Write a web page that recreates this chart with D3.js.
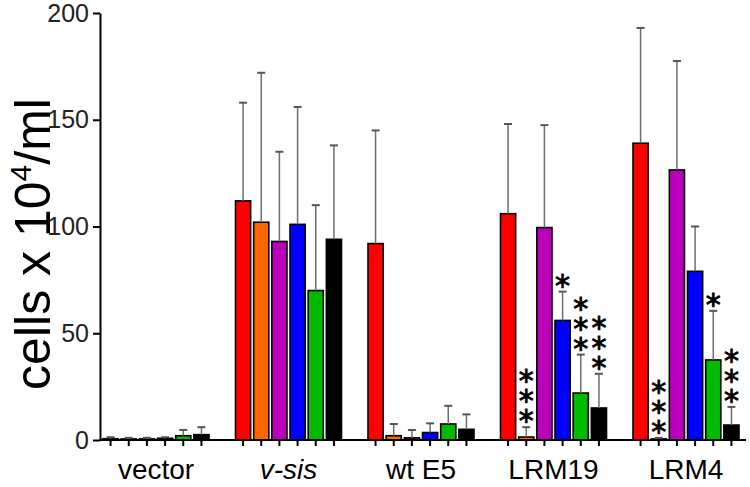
<!DOCTYPE html>
<html><head><meta charset="utf-8">
<script src="https://cdn.jsdelivr.net/npm/d3@7/dist/d3.min.js"></script>
<style>body{margin:0;background:#fff}svg{display:block}</style>
</head><body>
<svg id="chart" width="750" height="487"></svg>
<script>
// ---- data ----
const groups = ["vector", "v-sis", "wt E5", "LRM19", "LRM4"];
const italicGroups = ["v-sis"];
const series = ["s1", "s2", "s3", "s4", "s5", "s6"];
const colors = ["#ff0000", "#ff6600", "#bb00bb", "#0000ff", "#00bb00", "#000000"];
const meanVector = [0.6, 0.5, 0.5, 0.8, 2, 2.5];
const meanVsis   = [112, 102, 93, 101, 70, 94];
const meanWtE5   = [92, 2, 1, 3.5, 7.5, 5];
const meanLRM19  = [106, 1.4, 99.5, 56, 22, 15];
const meanLRM4   = [139, 0.5, 126.5, 79, 37.5, 7];
const upperVector = [1.3, 1.0, 1.0, 1.3, 4.7, 6.0];
const upperVsis   = [158, 172, 135, 156, 110, 138];
const upperWtE5   = [145, 7.5, 4.7, 7.8, 16, 12];
const upperLRM19  = [148, 6, 147.5, 69.5, 40, 31];
const upperLRM4   = [193, 1, 177.5, 100, 60.5, 15.5];
const starsVector = [0, 0, 0, 0, 0, 0];
const starsVsis   = [0, 0, 0, 0, 0, 0];
const starsWtE5   = [0, 0, 0, 0, 0, 0];
const starsLRM19  = [0, 3, 0, 1, 3, 3];
const starsLRM4   = [0, 3, 0, 0, 1, 3];
const yTicks = [0, 50, 100, 150, 200];

const means = [meanVector, meanVsis, meanWtE5, meanLRM19, meanLRM4];
const uppers = [upperVector, upperVsis, upperWtE5, upperLRM19, upperLRM4];
const stars = [starsVector, starsVsis, starsWtE5, starsLRM19, starsLRM4];

const rows = [];
groups.forEach((g, gi) => series.forEach((s, si) => rows.push({
  g, s, si, v: means[gi][si], up: uppers[gi][si], st: stars[gi][si]
})));

// ---- layout ----
const svg = d3.select("#chart");
const FONT = "Liberation Sans, Arial, sans-serif";
const axisX = 100, axisRight = 746, y0 = 440, yTop = 13;

const y = d3.scaleLinear().domain([0, 200]).range([y0, yTop]);
const x = d3.scaleBand().domain(groups).range([103, 739]).paddingInner(0.2).paddingOuter(0);
const xi = d3.scaleBand().domain(series).range([0, x.bandwidth()]).paddingInner(0.167).paddingOuter(0);
const cx = d => x(d.g) + xi(d.s) + xi.bandwidth() / 2;

// bars
svg.append("g").selectAll("rect").data(rows).join("rect")
  .attr("x", d => x(d.g) + xi(d.s))
  .attr("width", xi.bandwidth())
  .attr("y", d => y(d.v))
  .attr("height", d => y0 - y(d.v))
  .attr("fill", d => colors[d.si])
  .attr("stroke", "#000").attr("stroke-width", 1.6);

// error bars
const eb = svg.append("g");
eb.selectAll("line.v").data(rows).join("line").attr("class", "v")
  .attr("x1", cx).attr("x2", cx)
  .attr("y1", d => y(d.v)).attr("y2", d => y(d.up))
  .attr("stroke", "#6e6e6e").attr("stroke-width", 1.5);
eb.selectAll("line.c").data(rows).join("line").attr("class", "c")
  .attr("x1", d => cx(d) - 4).attr("x2", d => cx(d) + 4)
  .attr("y1", d => y(d.up)).attr("y2", d => y(d.up))
  .attr("stroke", "#555").attr("stroke-width", 2);

// significance stars: one vertical text per bar (stacked asterisks)
const STAR_FS = 30, STAR_PITCH = 20;
svg.append("g").selectAll("text").data(rows.filter(d => d.st > 0)).join("text")
  .attr("x", cx)
  .attr("y", d => y(d.up) - 13 - (d.st - 1) * STAR_PITCH - 11)
  .attr("text-anchor", "start")
  .style("writing-mode", "vertical-rl")
  .style("text-orientation", "upright")
  .style("letter-spacing", "-15px")
  .attr("font-family", "DejaVu Sans, sans-serif").attr("font-size", STAR_FS)
  .attr("fill", "#000").attr("stroke", "#000").attr("stroke-width", 0.9)
  .text(d => "*".repeat(d.st));

// x axis
const xa = svg.append("g");
xa.append("line").attr("x1", axisX).attr("x2", axisRight).attr("y1", y0).attr("y2", y0)
  .attr("stroke", "#000").attr("stroke-width", 2);
xa.selectAll("line.t").data(rows).join("line").attr("class", "t")
  .attr("x1", cx).attr("x2", cx)
  .attr("y1", y0).attr("y2", y0 + 6)
  .attr("stroke", "#000").attr("stroke-width", 2);
xa.selectAll("text").data(groups).join("text")
  .attr("x", g => x(g) + x.bandwidth() / 2)
  .attr("y", 479)
  .attr("text-anchor", "middle")
  .attr("font-family", FONT).attr("font-size", 28)
  .attr("font-style", g => italicGroups.includes(g) ? "italic" : "normal")
  .attr("fill", "#000")
  .text(g => g);

// y axis
const ya = svg.append("g").attr("transform", `translate(${axisX},0)`)
  .call(d3.axisLeft(y).tickValues(yTicks).tickSize(7).tickPadding(4).tickSizeOuter(0));
ya.select(".domain").attr("stroke", "#000").attr("stroke-width", 2);
ya.selectAll(".tick line").attr("stroke", "#000").attr("stroke-width", 2);
ya.selectAll(".tick text").attr("font-family", FONT).attr("font-size", 25).attr("fill", "#222");

// y label
const lab = svg.append("text")
  .attr("transform", "translate(50,244) rotate(-90)")
  .attr("text-anchor", "middle")
  .attr("font-family", FONT).attr("font-size", 50).attr("fill", "#000");
lab.append("tspan").text("cells x 10");
lab.append("tspan").attr("font-size", 30).attr("dy", -19).text("4");
lab.append("tspan").attr("dy", 19).text("/ml");
</script>
</body></html>
